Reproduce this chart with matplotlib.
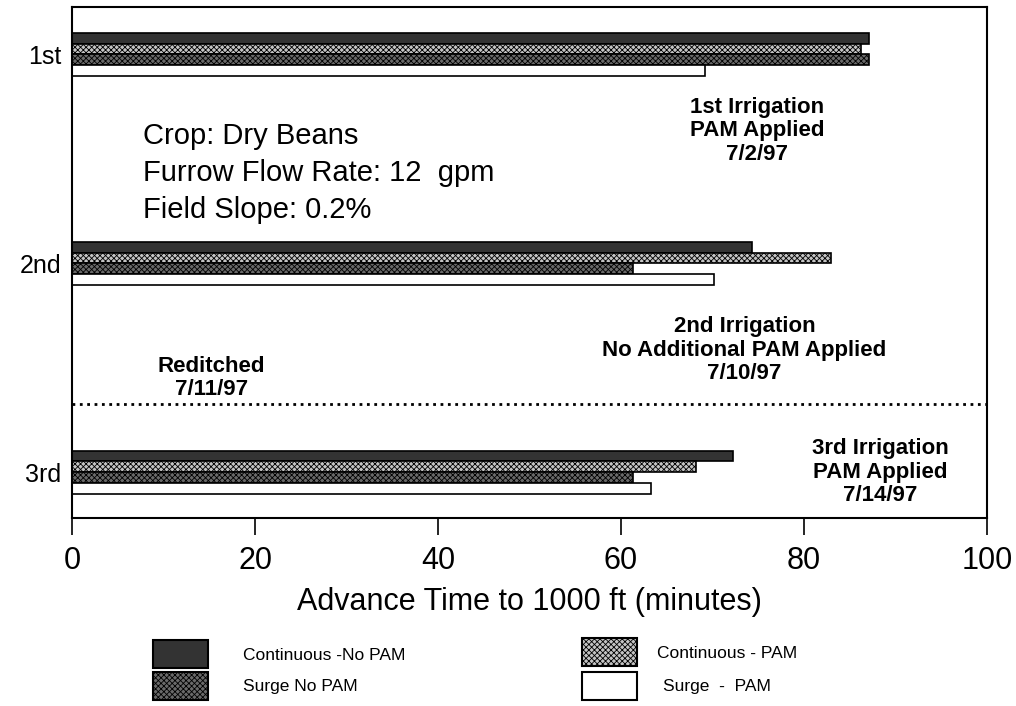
import numpy as np
import matplotlib
matplotlib.use('Agg')
import matplotlib.pyplot as plt
from matplotlib.patches import Rectangle

plt.rcParams['font.family'] = ['Liberation Sans', 'DejaVu Sans']
plt.rcParams['hatch.linewidth'] = 0.6

# Datos
riegos = ['1st', '2nd', '3rd']
series = ['Continuous -No PAM', 'Continuous - PAM', 'Surge No PAM', 'Surge  -  PAM']
continuo_sin_pam = [87.1, 74.3, 72.2]
continuo_pam = [86.2, 83.0, 68.2]
surge_sin_pam = [87.1, 61.3, 61.3]
surge_pam = [69.2, 70.2, 63.3]

valores = [continuo_sin_pam, continuo_pam, surge_sin_pam, surge_pam]
colores = ['#333333', '#c4c4c4', '#6a6a6a', 'white']
tramas = [None, 'xxxxxx', 'xxxxxx', None]

fig = plt.figure(figsize=(10.16, 7.06), dpi=100)
ax = fig.add_axes([0.0709, 0.2663, 0.9006, 0.7238])

y = np.arange(len(riegos))
alto = 0.0515
desp = np.array([-1.5, -0.5, 0.5, 1.5]) * alto

for i in range(4):
    ax.barh(y + desp[i], valores[i], height=alto, color=colores[i],
            edgecolor='black', linewidth=1.2, hatch=tramas[i])

ax.set_xlim(0, 100)
ax.set_ylim(2.22, -0.2275)
ax.set_xticks([0, 20, 40, 60, 80, 100])
ax.set_yticks(y)
ax.set_yticklabels(riegos)
ax.tick_params(axis='x', direction='out', length=12, width=1.2, labelsize=22, pad=8)
ax.tick_params(axis='y', length=0, labelsize=18, pad=8)
for s in ax.spines.values():
    s.set_linewidth(1.5)

ax.set_xlabel('Advance Time to 1000 ft (minutes)', fontsize=22, labelpad=8)

# Linea punteada del reditched
ax.axhline(1.674, color='black', linestyle=':', linewidth=2)

# Textos
ax.text(7.8, 0.568, 'Crop: Dry Beans\nFurrow Flow Rate: 12  gpm\nField Slope: 0.2%',
        fontsize=21, ha='left', va='center', linespacing=1.4)
nota = dict(fontsize=16, fontweight='bold', ha='center', va='center', linespacing=1.15)
ax.text(74.9, 0.366, '1st Irrigation\nPAM Applied\n7/2/97', **nota)
ax.text(73.5, 1.416, '2nd Irrigation\nNo Additional PAM Applied\n7/10/97', **nota)
ax.text(15.2, 1.55, 'Reditched\n7/11/97', **nota)
ax.text(88.3, 2.0, '3rd Irrigation\nPAM Applied\n7/14/97', **nota)

# Leyenda dibujada a mano
W, H = 1016, 706
cajas = [(153, 640), (582, 638), (153, 672), (582, 672)]
textos_x = [243, 657, 243, 663]
for i in range(4):
    x0, y0 = cajas[i]
    r = Rectangle((x0 / W, 1 - (y0 + 28) / H), 55 / W, 28 / H, transform=fig.transFigure,
                  facecolor=colores[i], edgecolor='black', linewidth=1.5, hatch=tramas[i])
    fig.add_artist(r)
    fig.text(textos_x[i] / W, 1 - (y0 + 15) / H, series[i], fontsize=12.5,
             ha='left', va='center')

fig.savefig('out.png', dpi=100)
